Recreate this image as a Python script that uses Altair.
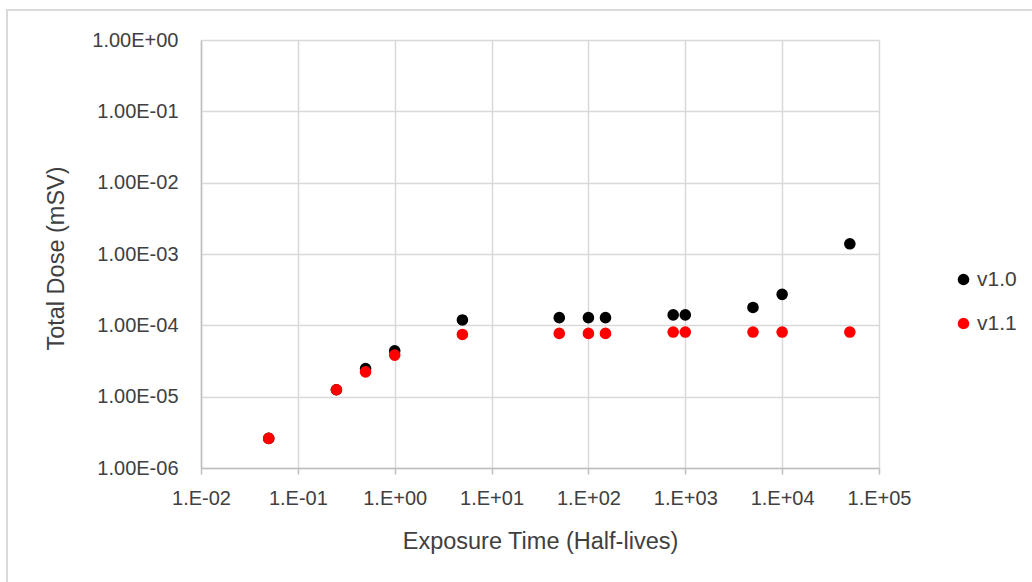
import altair as alt
import pandas as pd

# Exposure time (half-lives)
x_vals = [0.05, 0.25, 0.5, 1, 5, 50, 100, 150, 750, 1000, 5000, 10000, 50000]
# Total dose (mSv)
v10 = [2.6e-6, 1.25e-5, 2.48e-5, 4.4e-5, 1.19e-4, 1.28e-4, 1.28e-4, 1.28e-4,
       1.40e-4, 1.40e-4, 1.78e-4, 2.72e-4, 1.39e-3]
v11 = [2.6e-6, 1.25e-5, 2.23e-5, 3.83e-5, 7.45e-5, 7.7e-5, 7.7e-5, 7.7e-5,
       8.05e-5, 8.05e-5, 8.05e-5, 8.05e-5, 8.05e-5]
series = ["v1.0", "v1.1"]
colors = ["#000000", "#ff0000"]
x_ticks = [1e-2, 1e-1, 1e0, 1e1, 1e2, 1e3, 1e4, 1e5]
y_ticks = [1e-6, 1e-5, 1e-4, 1e-3, 1e-2, 1e-1, 1e0]

rows = []
for name, vals in zip(series, [v10, v11]):
    for xv, yv in zip(x_vals, vals):
        rows.append({"time": xv, "dose": yv, "series": name})
df = pd.DataFrame(rows)

FONT = "Liberation Sans"
TXT = "#404040"

x_label = ("'1.E' + (round(log(datum.value)/LN10) < 0 ? '-' : '+') + "
           "pad(toString(abs(round(log(datum.value)/LN10))), 2, '0', 'left')")
y_label = ("'1.00E' + (round(log(datum.value)/LN10) < 0 ? '-' : '+') + "
           "pad(toString(abs(round(log(datum.value)/LN10))), 2, '0', 'left')")

points = alt.Chart(df).mark_circle(size=135, opacity=1).encode(
    x=alt.X("time:Q",
            scale=alt.Scale(type="log", domain=[1e-2, 1e5], nice=False),
            axis=alt.Axis(values=x_ticks, labelExpr=x_label,
                          title="Exposure Time (Half-lives)",
                          titleY=73, titleBaseline="middle",
                          labelFlush=False, labelOverlap=False,
                          labelPadding=14, tickSize=6)),
    y=alt.Y("dose:Q",
            scale=alt.Scale(type="log", domain=[1e-6, 1e0], nice=False),
            axis=alt.Axis(values=y_ticks, labelExpr=y_label,
                          title="Total Dose (mSV)",
                          titleX=-145, titleY=218, titleBaseline="middle",
                          labelFlush=False, labelOverlap=False,
                          ticks=False, labelPadding=23)),
    color=alt.Color("series:N",
                    scale=alt.Scale(domain=series, range=colors),
                    legend=alt.Legend(title=None, orient="none",
                                      legendX=752, legendY=229,
                                      symbolType="circle", symbolSize=135,
                                      labelFontSize=21, labelColor=TXT,
                                      labelFont=FONT, rowPadding=22,
                                      labelOffset=3)),
)

frame = alt.Chart(pd.DataFrame({"a": [0]})).mark_rect(
    filled=False, stroke="#d9d9d9", strokeWidth=2
).encode(
    x=alt.value(-194), x2=alt.value(900),
    y=alt.value(-30), y2=alt.value(600),
)

chart = alt.layer(frame, points).properties(
    width=678, height=428,
    autosize=alt.AutoSizeParams(type="none"),
    padding={"left": 201, "top": 40, "right": 153, "bottom": 114},
    background="white",
).configure_view(stroke=None).configure_axis(
    gridColor="#d9d9d9", gridWidth=1.5,
    domainColor="#bfbfbf", domainWidth=1.5,
    tickColor="#bfbfbf", tickWidth=1.5,
    labelFont=FONT, labelFontSize=20, labelColor=TXT,
    titleFont=FONT, titleFontSize=23.5, titleColor=TXT, titleFontWeight="normal",
)

chart.save("out.html", embed_options={"renderer": "svg", "actions": False})
